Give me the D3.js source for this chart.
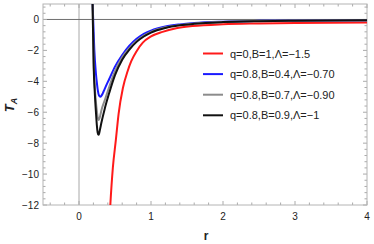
<!DOCTYPE html>
<html>
<head>
<meta charset="utf-8">
<script src="https://cdn.jsdelivr.net/npm/d3@7"></script>
<style>
  body { margin: 0; background: #fff; }
  text { font-family: "Liberation Sans", Arial, sans-serif; }
</style>
</head>
<body>
<svg id="chart" width="374" height="244"></svg>
<script>
// values
const redR = [0.42, 0.435, 0.47, 0.512, 0.55, 0.609, 0.675, 0.726, 0.8, 0.886, 1.0, 1.16, 1.35, 1.575, 2.0, 2.5, 3.0, 3.5, 4.0];
const redT = [-13.3, -12.0, -9.6, -7.79, -6.1, -4.45, -3.35, -2.7, -2.05, -1.5, -1.1, -0.8, -0.57, -0.43, -0.31, -0.26, -0.23, -0.21, -0.2];

const blueR = [0.18, 0.19, 0.197, 0.213, 0.235, 0.249, 0.262, 0.278, 0.296, 0.312, 0.33, 0.356, 0.42, 0.5, 0.6, 0.7, 0.8, 0.9, 1.0, 1.2, 1.4, 1.6, 2.0, 2.5, 3.0, 4.0];
const blueT = [3, 1, 0, -1.98, -3.5, -4.13, -4.6, -4.92, -5.0, -4.93, -4.78, -4.5, -3.85, -3.05, -2.3, -1.7, -1.25, -0.93, -0.72, -0.46, -0.32, -0.23, -0.14, -0.09, -0.065, -0.045];

const grayR = [0.18, 0.19, 0.204, 0.22, 0.236, 0.25, 0.263, 0.273, 0.283, 0.295, 0.31, 0.356, 0.42, 0.5, 0.6, 0.7, 0.8, 0.9, 1.0, 1.2, 1.4, 1.6, 2.0, 2.5, 3.0, 4.0];
const grayT = [3, 0.7, -2.8, -4.4, -5.4, -6.0, -6.4, -6.5, -6.42, -6.22, -5.9, -5.25, -4.35, -3.35, -2.45, -1.85, -1.38, -1.04, -0.8, -0.51, -0.35, -0.26, -0.16, -0.1, -0.07, -0.045];

const blackR = [0.18, 0.19, 0.204, 0.22, 0.236, 0.248, 0.259, 0.269, 0.279, 0.29, 0.31, 0.356, 0.42, 0.5, 0.6, 0.7, 0.8, 0.9, 1.0, 1.2, 1.4, 1.6, 2.0, 2.5, 3.0, 4.0];
const blackT = [3, 0.6, -3.06, -4.8, -6.05, -6.85, -7.32, -7.46, -7.38, -7.15, -6.7, -5.8, -4.75, -3.6, -2.6, -1.95, -1.45, -1.1, -0.85, -0.55, -0.38, -0.28, -0.17, -0.11, -0.08, -0.05];

const seriesLabels = ["q=0,B=1,\u039b=\u22121.5", "q=0.8,B=0.4,\u039b=\u22120.70", "q=0.8,B=0.7,\u039b=\u22120.90", "q=0.8,B=0.9,\u039b=\u22121"];
const seriesColors = ["#ff1a1a", "#1a1aff", "#8c8c8c", "#111111"];
const xTickValues = [0, 1, 2, 3, 4];
const yTickValues = [-12, -10, -8, -6, -4, -2, 0];

const series = [
  { r: redR, t: redT },
  { r: blueR, t: blueT },
  { r: grayR, t: grayT },
  { r: blackR, t: blackT }
];

const svg = d3.select("#chart");
const pL = 43, pR = 367, pT = 4, pB = 205;

const x = d3.scaleLinear().domain([-0.5, 4]).range([pL, pR]);
const y = d3.scaleLinear().domain([-12, 1]).range([pB, pT]);

const fmt = d => (d < 0 ? "\u2212" + Math.abs(d) : String(d));

svg.append("defs").append("clipPath").attr("id", "clip")
  .append("rect").attr("x", pL).attr("y", pT)
  .attr("width", pR - pL).attr("height", pB - pT);

// axes lines through origin
svg.append("line")
  .attr("x1", x(0)).attr("x2", x(0)).attr("y1", pT).attr("y2", pB)
  .attr("stroke", "#a8a8a8").attr("stroke-width", 1);
svg.append("line")
  .attr("x1", pL).attr("x2", pR).attr("y1", y(0)).attr("y2", y(0))
  .attr("stroke", "#6e6e6e").attr("stroke-width", 1);

// frame ticks (inward) on all sides
const tickCol = "#aaa";
const xMinor = d3.range(-0.4, 4.001, 0.2).filter(v => Math.abs(v - Math.round(v)) > 1e-6);
const yMinor = d3.range(-12, 1.001, 0.4).filter(v => Math.abs(v / 2 - Math.round(v / 2)) > 1e-6);

const ticks = svg.append("g").attr("stroke", tickCol).attr("stroke-width", 1);
xTickValues.forEach(v => {
  ticks.append("line").attr("x1", x(v)).attr("x2", x(v)).attr("y1", pB).attr("y2", pB - 4);
  ticks.append("line").attr("x1", x(v)).attr("x2", x(v)).attr("y1", pT).attr("y2", pT + 4);
});
xMinor.forEach(v => {
  ticks.append("line").attr("x1", x(v)).attr("x2", x(v)).attr("y1", pB).attr("y2", pB - 2.5);
  ticks.append("line").attr("x1", x(v)).attr("x2", x(v)).attr("y1", pT).attr("y2", pT + 2.5);
});
yTickValues.forEach(v => {
  ticks.append("line").attr("x1", pL).attr("x2", pL + 4).attr("y1", y(v)).attr("y2", y(v));
  ticks.append("line").attr("x1", pR).attr("x2", pR - 4).attr("y1", y(v)).attr("y2", y(v));
});
yMinor.forEach(v => {
  ticks.append("line").attr("x1", pL).attr("x2", pL + 2.5).attr("y1", y(v)).attr("y2", y(v));
  ticks.append("line").attr("x1", pR).attr("x2", pR - 2.5).attr("y1", y(v)).attr("y2", y(v));
});

svg.append("rect")
  .attr("x", pL).attr("y", pT).attr("width", pR - pL).attr("height", pB - pT)
  .attr("fill", "none").attr("stroke", "#b4b4b4").attr("stroke-width", 1);

// tick labels
svg.append("g").selectAll("text").data(xTickValues).join("text")
  .attr("x", d => x(d)).attr("y", 220)
  .attr("text-anchor", "middle").attr("font-size", 10).attr("fill", "#222")
  .text(fmt);
svg.append("g").selectAll("text").data(yTickValues).join("text")
  .attr("x", 39).attr("y", d => y(d) + 3.5)
  .attr("text-anchor", "end").attr("font-size", 10).attr("fill", "#222")
  .text(fmt);

// axis labels
svg.append("text").attr("x", 206).attr("y", 240)
  .attr("text-anchor", "middle").attr("font-size", 12).attr("font-weight", "bold")
  .attr("fill", "#222").text("r");
const yl = svg.append("text")
  .attr("transform", "translate(14,105) rotate(-90)")
  .attr("text-anchor", "middle").attr("font-size", 13).attr("font-weight", "bold")
  .attr("font-style", "italic").attr("fill", "#222");
yl.append("tspan").text("T");
yl.append("tspan").attr("font-size", 9).attr("dy", 3).text("A");

// curves
const line = d3.line()
  .x(d => x(d[0])).y(d => y(d[1]))
  .curve(d3.curveMonotoneX);

svg.append("g").attr("clip-path", "url(#clip)")
  .selectAll("path").data(series).join("path")
  .attr("d", s => line(s.r.map((r, i) => [r, s.t[i]])))
  .attr("fill", "none")
  .attr("stroke", (s, i) => seriesColors[i])
  .attr("stroke-width", 2)
  .attr("stroke-linejoin", "round");

// legend
const legend = svg.append("g");
seriesLabels.forEach((lab, i) => {
  const ly = 53.5 + i * 20.6;
  legend.append("line").attr("x1", 203).attr("x2", 223).attr("y1", ly).attr("y2", ly)
    .attr("stroke", seriesColors[i]).attr("stroke-width", 2);
  legend.append("text").attr("x", 230).attr("y", ly + 4)
    .attr("font-size", 11).attr("fill", "#222").text(lab);
});
</script>
</body>
</html>
